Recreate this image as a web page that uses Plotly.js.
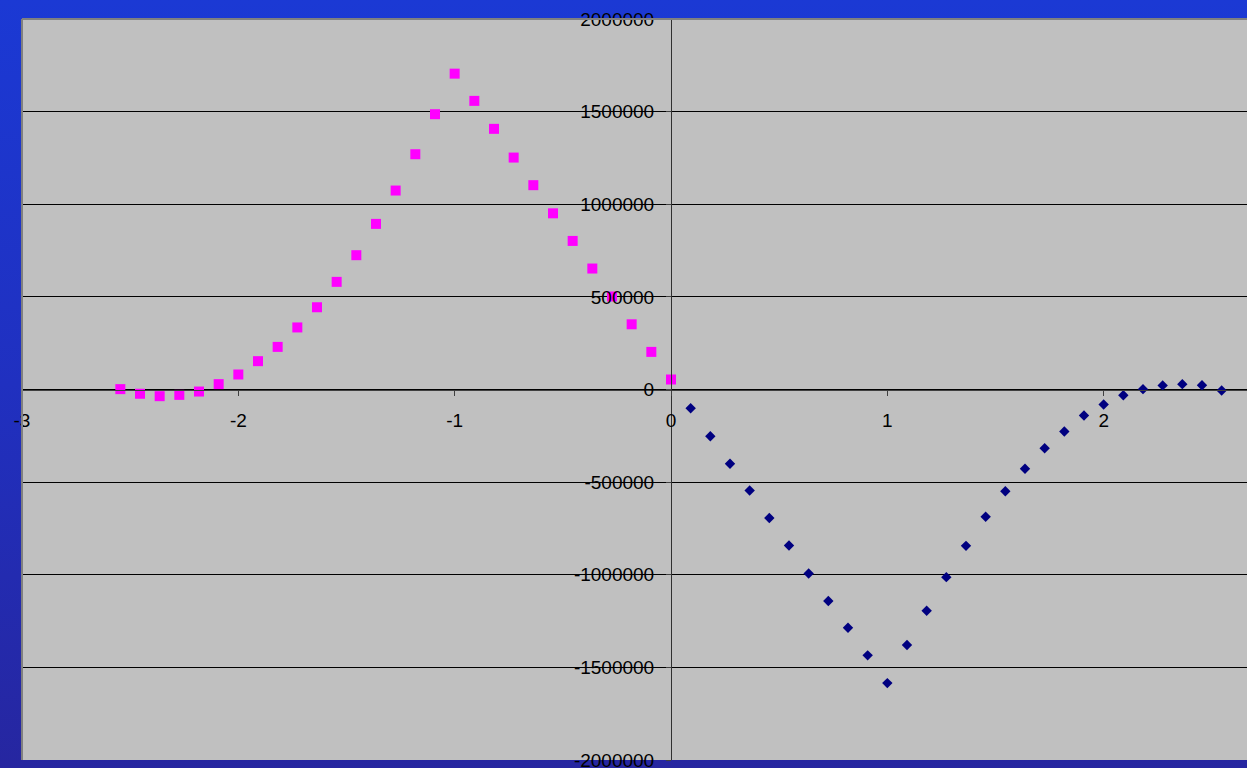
<!DOCTYPE html>
<html>
<head>
<meta charset="utf-8">
<script src="https://cdn.plot.ly/plotly-3.0.1.min.js"></script>
<style>
  html, body { margin: 0; padding: 0; }
  body { width: 1247px; height: 768px; overflow: hidden;
         background: linear-gradient(to bottom, #1b39d4 0%, #2030c0 50%, #2626a0 100%); }
  #chart { width: 1247px; height: 768px; }
</style>
</head>
<body>
<div id="chart"></div>
<script>
// Series 1 (magenta squares): x from -28/11 to 0, step 1/11
const pinkX = [-28,-27,-26,-25,-24,-23,-22,-21,-20,-19,-18,-17,-16,-15,-14,-13,-12,-11,-10,-9,-8,-7,-6,-5,-4,-3,-2,-1,0].map(function(k){return k/11;});
const pinkY = [2000, -23000, -36000, -29000, -11000, 29000, 81000, 153000, 230000, 335000,
               444000, 581000, 725000, 894000, 1074000, 1270000, 1486000, 1705000, 1558000, 1407000,
               1252000, 1103000, 951000, 802000, 653000, 502000, 352000, 203000, 54000];

// Series 2 (navy diamonds): x from 1/11 to 28/11, step 1/11
const navyX = [1,2,3,4,5,6,7,8,9,10,11,12,13,14,15,16,17,18,19,20,21,22,23,24,25,26,27,28].map(function(k){return k/11;});
const navyY = [-101000, -252000, -401000, -545000, -694000, -842000, -993000, -1142000, -1286000, -1435000,
               -1585000, -1379000, -1194000, -1013000, -844000, -687000, -549000, -428000, -317000, -227000,
               -140000, -81000, -31000, 2000, 22000, 29000, 23000, -5000];

const xTicks = [-3, -2, -1, 0, 1, 2];
const yTicks = [-2000000, -1500000, -1000000, -500000, 0, 500000, 1000000, 1500000, 2000000];

const xMin = -3, xMax = 2.6626;
const font = { family: 'Liberation Sans, Arial, sans-serif', size: 19, color: '#000000' };

const traces = [
  { x: pinkX, y: pinkY, type: 'scatter', mode: 'markers', name: 'Series1',
    marker: { symbol: 'square', size: 10, color: '#ff00ff', line: { width: 0 } } },
  { x: navyX, y: navyY, type: 'scatter', mode: 'markers', name: 'Series2',
    marker: { symbol: 'diamond', size: 8, color: '#000080', line: { width: 0 } } }
];

const layout = {
  width: 1247, height: 768,
  margin: { l: 22, r: 0, t: 19, b: 8, pad: 0 },
  paper_bgcolor: 'rgba(0,0,0,0)',
  plot_bgcolor: '#c0c0c0',
  showlegend: false,
  font: font,
  xaxis: {
    range: [xMin, xMax], anchor: 'free', position: 0.5,
    tickvals: xTicks, ticktext: xTicks.map(String),
    showgrid: false, zeroline: false,
    showline: true, linecolor: '#404040', linewidth: 1.5,
    ticks: 'outside', ticklen: 5, tickwidth: 1, tickcolor: '#404040',
    tickfont: font, ticklabelstandoff: 8, ticklabeloverflow: 'allow',
    automargin: false, fixedrange: true
  },
  yaxis: {
    range: [-2000000, 2000000], anchor: 'free', position: (0 - xMin) / (xMax - xMin),
    tickvals: yTicks, ticktext: yTicks.map(String),
    showgrid: true, gridcolor: '#000000', gridwidth: 1, zeroline: false,
    showline: true, linecolor: '#303030', linewidth: 1,
    ticks: 'outside', ticklen: 5, tickwidth: 1, tickcolor: '#404040',
    tickfont: font, ticklabelstandoff: 8, ticklabeloverflow: 'allow',
    automargin: false, fixedrange: true
  },
  shapes: [
    { type: 'line', xref: 'paper', yref: 'paper', x0: 0, x1: 1, y0: 1, y1: 1,
      line: { color: '#808080', width: 2 } },
    { type: 'line', xref: 'paper', yref: 'paper', x0: 0, x1: 0, y0: 0, y1: 1,
      line: { color: '#808080', width: 2 } }
  ]
};

Plotly.newPlot('chart', traces, layout, { staticPlot: true, displayModeBar: false });
</script>
</body>
</html>
